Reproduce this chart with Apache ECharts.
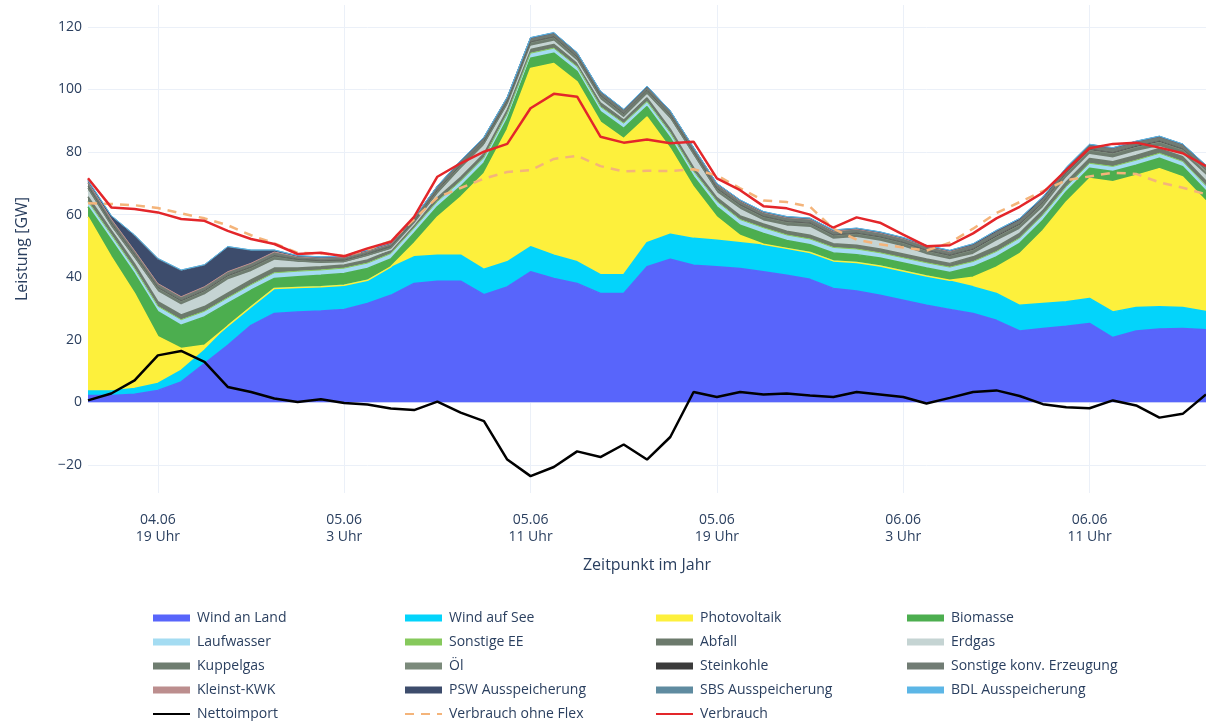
<!DOCTYPE html>
<html><head><meta charset="utf-8">
<script src="https://cdn.jsdelivr.net/npm/echarts@6/dist/echarts.min.js"></script>
<style>html,body{margin:0;padding:0;background:#fff}#c{width:1206px;height:721px}</style>
</head><body><div id="c"></div>
<script>
const categories = [
'04.06 16 Uhr','04.06 17 Uhr','04.06 18 Uhr','04.06 19 Uhr','04.06 20 Uhr','04.06 21 Uhr','04.06 22 Uhr','04.06 23 Uhr',
'05.06 0 Uhr','05.06 1 Uhr','05.06 2 Uhr','05.06 3 Uhr','05.06 4 Uhr','05.06 5 Uhr','05.06 6 Uhr','05.06 7 Uhr',
'05.06 8 Uhr','05.06 9 Uhr','05.06 10 Uhr','05.06 11 Uhr','05.06 12 Uhr','05.06 13 Uhr','05.06 14 Uhr','05.06 15 Uhr',
'05.06 16 Uhr','05.06 17 Uhr','05.06 18 Uhr','05.06 19 Uhr','05.06 20 Uhr','05.06 21 Uhr','05.06 22 Uhr','05.06 23 Uhr',
'06.06 0 Uhr','06.06 1 Uhr','06.06 2 Uhr','06.06 3 Uhr','06.06 4 Uhr','06.06 5 Uhr','06.06 6 Uhr','06.06 7 Uhr',
'06.06 8 Uhr','06.06 9 Uhr','06.06 10 Uhr','06.06 11 Uhr','06.06 12 Uhr','06.06 13 Uhr','06.06 14 Uhr','06.06 15 Uhr',
'06.06 16 Uhr'];
const xTickLabels = ['04.06 19 Uhr','05.06 3 Uhr','05.06 11 Uhr','05.06 19 Uhr','06.06 3 Uhr','06.06 11 Uhr'];
const yTicks = [-20, 0, 20, 40, 60, 80, 100, 120];

const windAnLand = [2.2,2.2,2.6,3.8,6.5,12.4,18.2,24.6,28.4,28.9,
29.2,29.7,31.6,34.2,38.0,38.7,38.7,34.4,36.9,41.7,
39.6,38.0,34.8,34.8,43.3,45.7,43.8,43.3,42.8,41.7,
40.6,39.3,36.4,35.6,34.2,32.6,31.0,29.7,28.4,26.2,
22.8,23.6,24.3,25.2,20.7,22.8,23.4,23.6,23.2];
const windAufSee = [1.4,1.4,1.8,2.2,3.7,4.2,5.9,5.9,8.0,7.8,
7.7,7.7,7.4,8.8,8.5,8.3,8.3,8.1,8.0,8.0,
7.4,6.9,6.0,6.0,7.7,8.0,8.6,8.5,8.2,8.5,
8.6,8.6,8.8,9.1,9.4,9.4,9.4,9.0,8.5,8.6,
8.2,8.0,7.8,8.0,8.2,7.5,7.1,6.7,5.8];
const photovoltaik = [55.7,42.9,30.4,15.0,7.0,1.6,0.3,0,0,0,
0,0,0,0.3,4.3,12.2,18.6,30.6,42.3,57.0,
61.3,57.5,48.8,43.5,40.2,27.4,16.4,7.4,2.3,0.3,
0,0,0,0,0,0,0,0.3,3.1,8.4,
16.5,23.3,31.9,38.3,41.6,42.2,44.2,41.7,35.2];
const biomasse = [3.2,5.3,6.2,8.0,7.4,9.1,7.2,5.3,3.2,3.4,
3.7,3.8,3.8,2.5,3.2,3.3,3.4,3.4,3.3,3.3,
3.3,3.3,3.3,3.3,3.3,3.3,3.3,3.3,3.3,3.5,
2.5,2.5,2.5,2.5,2.5,2.5,2.5,2.5,3.3,3.3,
3.3,3.3,3.3,3.3,3.3,3.3,3.3,3.3,3.3];
const laufwasser = [1.5,1.5,1.5,1.5,1.6,1.6,1.6,1.6,1.6,1.6,
1.5,1.5,1.5,1.5,1.5,1.5,1.5,1.5,1.5,1.4,
1.4,1.4,1.4,1.4,1.4,1.5,1.5,1.5,1.6,1.6,
1.6,1.6,1.6,1.6,1.5,1.5,1.5,1.5,1.5,1.5,
1.5,1.5,1.4,1.4,1.4,1.4,1.4,1.5,1.5];
const sonstigeEE = [0.2,0.2,0.2,0.2,0.2,0.2,0.2,0.2,0.2,0.2,
0.2,0.2,0.2,0.2,0.2,0.2,0.2,0.2,0.2,0.2,
0.2,0.2,0.2,0.2,0.2,0.2,0.2,0.2,0.2,0.2,
0.2,0.2,0.2,0.2,0.2,0.2,0.2,0.2,0.2,0.2,
0.2,0.2,0.2,0.2,0.2,0.2,0.2,0.2,0.2];
const abfall = [1.5,1.5,1.5,1.5,1.5,1.5,1.5,1.5,1.5,1.0,
1.0,1.0,1.0,1.0,1.0,1.2,1.2,1.2,1.2,1.2,
1.2,1.2,1.2,1.2,1.2,1.2,1.2,1.2,1.2,1.2,
1.2,1.2,1.2,1.2,1.2,1.2,1.2,1.2,1.5,1.5,
1.5,1.5,1.5,1.5,1.5,1.5,1.5,1.5,1.5];
const erdgas = [1.95,0.8,1.5,3.0,3.1,3.6,4.1,2.6,2.4,1.8,
1.0,0.6,1.0,0.3,0.3,0.9,2.5,2.5,1.3,0.9,
0.9,0.4,0.9,0.4,0.9,3.0,3.6,1.5,2.0,0.9,
1.6,2.4,1.3,2.4,2.4,2.2,1.3,1.1,0.7,1.7,
1.2,0.7,1.2,1.2,1.1,1.2,0.6,0.7,1.7];
const kuppelgas = [0.9,0.9,0.9,0.9,0.9,0.9,0.9,0.9,0.9,0.55,
0.55,0.55,0.55,0.55,0.55,0.9,0.9,0.9,0.9,0.9,
0.9,0.9,0.9,0.9,0.9,0.9,0.9,0.9,0.9,0.9,
0.9,0.9,0.9,0.9,0.9,0.9,0.9,0.9,1.05,1.05,
1.05,1.05,1.05,1.05,1.05,1.05,1.05,1.05,1.05];
const oel = [0.4,0.4,0.4,0.4,0.4,0.4,0.4,0.4,0.4,0.25,
0.25,0.25,0.25,0.25,0.25,0.4,0.4,0.4,0.4,0.4,
0.4,0.4,0.4,0.4,0.4,0.4,0.4,0.4,0.4,0.4,
0.4,0.4,0.4,0.4,0.4,0.4,0.4,0.4,0.45,0.45,
0.45,0.45,0.45,0.45,0.45,0.45,0.45,0.45,0.45];
const steinkohle = [0.2,0.2,0.2,0.2,0.2,0.2,0.2,0.2,0.2,0.15,
0.15,0.15,0.15,0.15,0.15,0.2,0.2,0.2,0.2,0.2,
0.2,0.2,0.2,0.2,0.2,0.2,0.2,0.2,0.2,0.2,
0.2,0.2,0.2,0.2,0.2,0.2,0.2,0.2,0.3,0.3,
0.3,0.3,0.3,0.3,0.3,0.3,0.3,0.3,0.3];
const sonstigeKonv = [1.0,1.0,1.0,1.0,1.0,1.0,1.0,1.0,1.0,0.65,
0.65,0.65,0.65,0.65,0.65,1.0,1.0,1.0,1.0,1.0,
1.0,1.0,1.0,1.0,1.0,1.0,1.0,1.0,1.0,1.0,
1.0,1.0,1.0,1.0,1.0,1.0,1.0,1.0,1.2,1.2,
1.2,1.2,1.2,1.2,1.2,1.2,1.2,1.2,1.2];
const kleinstKWK = [0.25,0.25,0.25,0.25,0.25,0.25,0.25,0.25,0.25,0.25,
0.25,0.25,0.25,0.25,0.25,0.25,0.25,0.25,0.25,0.25,
0.25,0.25,0.25,0.25,0.25,0.25,0.25,0.25,0.25,0.25,
0.25,0.25,0.25,0.25,0.25,0.25,0.25,0.25,0.25,0.25,
0.25,0.25,0.25,0.25,0.25,0.25,0.25,0.25,0.25];
const pswAus = [0.3,0.8,4.7,7.7,8.2,6.8,7.8,4.0,0.5,0.2,
0.2,0.2,0.2,0.2,0,0,0,0,0,0,
0,0,0,0,0,0,0,0.2,0.2,0.2,
0.2,0.2,0.2,0.2,0.2,0.2,0.2,0.2,0,0,
0,0,0,0,0,0,0,0,0];
const sbsAus = [0.2,0.3,0.3,0.3,0.3,0.2,0.2,0.2,0.1,0.1,
0.1,0.1,0.1,0.1,0.1,0.1,0.1,0.1,0.1,0.1,
0.1,0.1,0.1,0.1,0.1,0.1,0.1,0.1,0.1,0.1,
0.1,0.1,0.1,0.1,0.1,0.1,0.1,0.1,0.2,0.3,
0.3,0.3,0.2,0.1,0.1,0.1,0.1,0.1,0.1];
const bdlAus = [0.05,0.05,0.05,0.05,0.05,0.05,0.05,0.05,0.05,0.05,
0.05,0.05,0.05,0.05,0.05,0.05,0.05,0.05,0.05,0.05,
0.05,0.05,0.05,0.05,0.05,0.05,0.05,0.05,0.05,0.05,
0.05,0.05,0.05,0.05,0.05,0.05,0.05,0.05,0.05,0.05,
0.05,0.05,0.05,0.05,0.05,0.05,0.05,0.05,0.05];
const nettoimport = [0.6,2.8,7.0,15.0,16.4,12.9,4.9,3.3,1.2,0.1,
1.0,-0.2,-0.7,-2.0,-2.5,0.2,-3.3,-6.0,-18.3,-23.6,
-20.7,-15.7,-17.5,-13.5,-18.3,-11.1,3.3,1.7,3.3,2.5,
2.8,2.2,1.7,3.3,2.5,1.7,-0.4,1.4,3.3,3.8,
2.0,-0.6,-1.6,-1.9,0.6,-1.0,-4.9,-3.7,2.5];
const verbrauchOhneFlex = [63.6,63.4,63.0,62.1,60.4,58.8,56.6,53.4,50.8,47.8,
47.6,46.8,48.8,51.5,58.5,65.5,68.5,71.5,73.6,74.2,
77.8,78.8,75.5,73.8,74.0,73.9,74.5,72.5,68.4,64.5,
64.0,62.5,55.5,52.0,50.5,49.5,48.5,51.0,55.5,60.5,
64.0,67.5,71.0,72.2,73.4,73.0,70.3,68.6,66.5];
const verbrauch = [71.6,62.3,61.8,60.7,58.6,58.0,54.8,52.2,50.6,47.4,
47.8,46.7,49.2,51.3,59.3,72.1,76.4,80.1,82.6,94.0,
98.6,97.7,84.9,83.0,84.0,82.8,83.3,71.6,67.8,62.7,
62.0,60.0,55.8,59.1,57.4,53.6,49.9,50.2,54.0,58.8,
62.5,67.0,74.2,81.2,82.6,83.0,81.4,79.6,75.5];

const areaDefs = [
  ['Wind an Land', windAnLand, '#5865fb', 1.5],
  ['Wind auf See', windAufSee, '#03d4fb', 1.5],
  ['Photovoltaik', photovoltaik, '#fdf03c', 1.5],
  ['Biomasse', biomasse, '#4cae4f', 1.5],
  ['Laufwasser', laufwasser, '#a4dcf2', 1.5],
  ['Sonstige EE', sonstigeEE, '#86c95c', 1],
  ['Abfall', abfall, '#6c7a6c', 1.5],
  ['Erdgas', erdgas, '#c5d4d3', 1.5],
  ['Kuppelgas', kuppelgas, '#6f7d70', 1.5],
  ['Öl', oel, '#7b8a7b', 1],
  ['Steinkohle', steinkohle, '#3b3b3b', 0.5],
  ['Sonstige konv. Erzeugung', sonstigeKonv, '#717c74', 1.5],
  ['Kleinst-KWK', kleinstKWK, '#bc8e8e', 1],
  ['PSW Ausspeicherung', pswAus, '#3d4c6c', 1],
  ['SBS Ausspeicherung', sbsAus, '#5f8ba0', 1],
  ['BDL Ausspeicherung', bdlAus, '#5cb6e6', 1]
];
const lineDefs = [
  ['Nettoimport', nettoimport, '#000000', 2.5, 'solid'],
  ['Verbrauch ohne Flex', verbrauchOhneFlex, '#f4b47a', 2.5, [9, 7]],
  ['Verbrauch', verbrauch, '#e3262a', 2.5, 'solid']
];

const series = [];
areaDefs.forEach(([name, data, color, lw]) => {
  series.push({
    name, type: 'line', stack: 'gen', data, color,
    symbol: 'none', showSymbol: false, smooth: false,
    lineStyle: {color, width: lw},
    areaStyle: {color, opacity: 1},
    emphasis: {disabled: true}
  });
});
lineDefs.forEach(([name, data, color, lw, type]) => {
  series.push({
    name, type: 'line', data, color, z: 5,
    symbol: 'none', showSymbol: false,
    lineStyle: {color, width: lw, type},
    emphasis: {disabled: true}
  });
});

const areaNames = areaDefs.map(d => d[0]);
const legendCols = [
  ['Wind an Land', 'Laufwasser', 'Kuppelgas', 'Kleinst-KWK', 'Nettoimport'],
  ['Wind auf See', 'Sonstige EE', 'Öl', 'PSW Ausspeicherung', 'Verbrauch ohne Flex'],
  ['Photovoltaik', 'Abfall', 'Steinkohle', 'SBS Ausspeicherung', 'Verbrauch'],
  ['Biomasse', 'Erdgas', 'Sonstige konv. Erzeugung', 'BDL Ausspeicherung']
];
const legendLeft = [152, 404, 655, 907];
const txt = '#2a3f5f';
const legends = legendCols.map((col, k) => ({
  orient: 'vertical', left: legendLeft[k], top: 611, height: 125, padding: 0,
  itemWidth: 37, itemHeight: 7, itemGap: 10,
  selectedMode: false,
  textStyle: {color: txt, fontSize: 14, fontFamily: 'Open Sans', padding: [0, 0, 0, 2]},
  data: col.map(n => areaNames.includes(n) ? {name: n, icon: 'rect'} : {name: n, itemStyle: {opacity: 0}})
}));

const chart = echarts.init(document.getElementById('c'), null, {renderer: 'canvas'});
chart.setOption({
  animation: false,
  backgroundColor: '#ffffff',
  textStyle: {fontFamily: 'Open Sans'},
  grid: {left: 88, right: -4, top: 5, bottom: 228},
  legend: legends,
  xAxis: {
    type: 'category', data: categories, boundaryGap: false,
    axisLine: {show: false}, axisTick: {show: false},
    axisLabel: {
      interval: (i, v) => xTickLabels.includes(v),
      formatter: v => v.replace(' ', '\n'),
      color: txt, fontSize: 14, lineHeight: 17, margin: 19, fontFamily: 'Open Sans'
    },
    splitLine: {show: true, interval: (i, v) => xTickLabels.includes(v), lineStyle: {color: '#ebf0f8', width: 1}},
    name: 'Zeitpunkt im Jahr', nameLocation: 'middle', nameGap: 64,
    nameTextStyle: {color: txt, fontSize: 16, fontFamily: 'Open Sans'}
  },
  yAxis: {
    type: 'value', min: -29, max: 127,
    axisLine: {show: false},
    axisTick: {show: false, customValues: yTicks},
    axisLabel: {customValues: yTicks, formatter: v => String(v).replace('-', '\u2212'),
      color: txt, fontSize: 14, margin: 6, fontFamily: 'Open Sans'},
    splitLine: {show: true, lineStyle: {color: '#ebf0f8', width: 1}},
    name: 'Leistung [GW]', nameLocation: 'middle', nameGap: 58, nameRotate: 90,
    nameTextStyle: {color: txt, fontSize: 16, fontFamily: 'Open Sans'}
  },
  series
});
</script>
</body></html>
